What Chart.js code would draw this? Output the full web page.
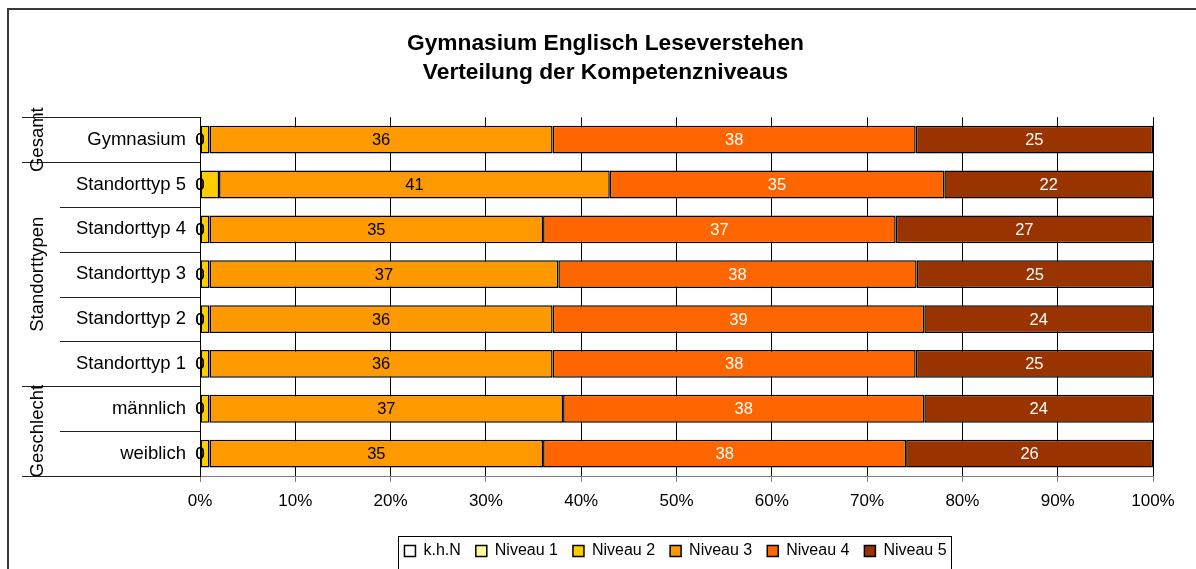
<!DOCTYPE html>
<html>
<head>
<meta charset="utf-8">
<script src="https://cdn.jsdelivr.net/npm/chart.js@4"></script>
<style>
  html, body { margin: 0; padding: 0; background: #fff; }
  #wrap { width: 1196px; height: 569px; }
</style>
</head>
<body>
<div id="wrap"><canvas id="chart_canvas" width="1196" height="569"></canvas></div>
<script>
// categories, top to bottom
const categories = ['Gymnasium','Standorttyp 5','Standorttyp 4','Standorttyp 3','Standorttyp 2','Standorttyp 1','männlich','weiblich'];
// group labels on the far left and the category index range they cover
const group_labels = ['Gesamt','Standorttypen','Geschlecht'];
const group_first = [0, 1, 6];
const group_last = [0, 5, 7];
// percent per level
const khn = [0, 0, 0, 0, 0, 0, 0, 0];
const niveau1 = [0, 0, 0, 0, 0, 0, 0, 0];
const niveau2 = [1, 2, 1, 1, 1, 1, 1, 1];
const niveau3 = [36, 41, 35, 36.6, 36, 36, 37.1, 35];
const niveau4 = [38.1, 35.1, 37, 37.6, 39, 38.1, 37.9, 38.1];
const niveau5 = [24.9, 21.9, 27, 24.8, 24, 24.9, 24, 25.9];
const x_ticks = [0,10,20,30,40,50,60,70,80,90,100];

const font_family = "'Liberation Sans', Arial, sans-serif";
Chart.defaults.font.family = font_family;
Chart.defaults.font.size = 16;
Chart.defaults.color = '#000';

function bar_set(label, data, color, text_color) {
    return {
        label: label,
        data: data,
        backgroundColor: color,
        borderColor: '#000',
        borderWidth: 1.5,
        borderSkipped: false,
        inflateAmount: 0,
        text_color: text_color,
        barPercentage: 0.62,
        categoryPercentage: 1.0
    };
}

const bar_data = {
    labels: categories,
    datasets: [
        bar_set('k.h.N', khn, '#FFFFFF', '#000'),
        bar_set('Niveau 1', niveau1, '#FFFF99', '#000'),
        bar_set('Niveau 2', niveau2, '#FFCC00', null),
        bar_set('Niveau 3', niveau3, '#FF9900', '#000'),
        bar_set('Niveau 4', niveau4, '#FF6600', '#fff'),
        bar_set('Niveau 5', niveau5, '#993300', '#fff')
    ]
};

// value labels on the bars
const value_labels = {
    id: 'value_labels',
    afterDatasetsDraw(chart) {
        const ctx = chart.ctx;
        ctx.save();
        ctx.font = '16.5px ' + font_family;
        ctx.textAlign = 'center';
        ctx.textBaseline = 'middle';
        chart.data.datasets.forEach((ds, di) => {
            if (!ds.text_color) return;
            const meta = chart.getDatasetMeta(di);
            meta.data.forEach((el, i) => {
                const p = el.getProps(['x', 'base', 'y'], true);
                ctx.fillStyle = ds.text_color;
                ctx.fillText(String(Math.round(ds.data[i])), (p.x + p.base) / 2, p.y + 1);
            });
        });
        ctx.restore();
    }
};

// move legend and title to where the original has them
const block_shift = {
    id: 'block_shift',
    afterLayout(chart) {
        chart.legend.left += 99;
        chart.legend.right += 99;
        chart.titleBlock.left += 29;
        chart.titleBlock.right += 29;
    }
};

// group captions, separator lines, legend frame and outer frame
const decorations = {
    id: 'decorations',
    afterDraw(chart) {
        const ctx = chart.ctx;
        const area = chart.chartArea;
        const ys = chart.scales.y;
        const n = categories.length;
        const edge = (i) => {
            if (i <= 0) return area.top;
            if (i >= n) return area.bottom;
            return (ys.getPixelForValue(i - 1) + ys.getPixelForValue(i)) / 2;
        };
        ctx.save();
        ctx.strokeStyle = '#222';
        ctx.lineWidth = 1;
        for (let i = 0; i <= n; i++) {
            const is_group = i === 0 || i === n || group_first.indexOf(i) >= 0;
            const y = Math.round(edge(i)) + 0.5;
            ctx.beginPath();
            ctx.moveTo(is_group ? 22 : 60, y);
            ctx.lineTo(area.left, y);
            ctx.stroke();
        }
        ctx.fillStyle = '#000';
        ctx.font = '18.5px ' + font_family;
        ctx.textAlign = 'center';
        ctx.textBaseline = 'middle';
        group_labels.forEach((g, k) => {
            const yc = (edge(group_first[k]) + edge(group_last[k] + 1)) / 2;
            ctx.save();
            ctx.translate(38, yc);
            ctx.rotate(-Math.PI / 2);
            ctx.fillText(g, 0, 0);
            ctx.restore();
        });

        // legend frame
        const boxes = chart.legend.legendHitBoxes;
        if (boxes && boxes.length) {
            const l = boxes[0].left - 6;
            const last = boxes[boxes.length - 1];
            const r = last.left + last.width + 5;
            const t = boxes[0].top + boxes[0].height / 2 - 15;
            ctx.strokeStyle = '#000';
            ctx.strokeRect(Math.round(l) + 0.5, Math.round(t) + 0.5, Math.round(r - l), 60);
        }

        // outer frame
        ctx.strokeStyle = '#3a3a3a';
        ctx.lineWidth = 2;
        ctx.strokeRect(8, 9, 1300, 700);
        ctx.restore();
    }
};

const bar_config = {
    type: 'bar',
    data: bar_data,
    options: {
        indexAxis: 'y',
        responsive: false,
        animation: false,
        layout: { padding: { left: 0, right: 43, top: 0, bottom: 0 } },
        scales: {
            x: {
                stacked: true,
                min: 0,
                max: 100,
                afterBuildTicks: (scale) => { scale.ticks = x_ticks.map(v => ({ value: v })); },
                afterFit: (scale) => { scale.height = 52; },
                ticks: {
                    padding: 9,
                    callback: (v) => v + '%',
                    font: { size: 17 },
                    color: '#000'
                },
                grid: { color: '#000', lineWidth: 1, tickLength: 6, tickColor: '#808080' },
                border: { display: true, color: '#808080' }
            },
            y: {
                stacked: true,
                afterFit: (scale) => { scale.width = 200; },
                ticks: { padding: 14, font: { size: 18.5 }, color: '#000' },
                grid: { display: false, drawTicks: false },
                border: { display: true, color: '#000' }
            }
        },
        plugins: {
            title: {
                display: true,
                text: ['Gymnasium Englisch Leseverstehen', 'Verteilung der Kompetenzniveaus'],
                font: { size: 22.75, weight: 'bold', lineHeight: 1.28 },
                color: '#000',
                padding: { top: 29, bottom: 30 }
            },
            legend: {
                position: 'bottom',
                labels: {
                    boxWidth: 11,
                    boxHeight: 11,
                    padding: 15,
                    font: { size: 16 },
                    color: '#000'
                }
            },
            tooltip: { enabled: false }
        }
    },
    plugins: [block_shift, value_labels, decorations]
};

const chart_canvas = document.getElementById('chart_canvas');
const bar_chart = new Chart(chart_canvas, bar_config);
</script>
</body>
</html>
